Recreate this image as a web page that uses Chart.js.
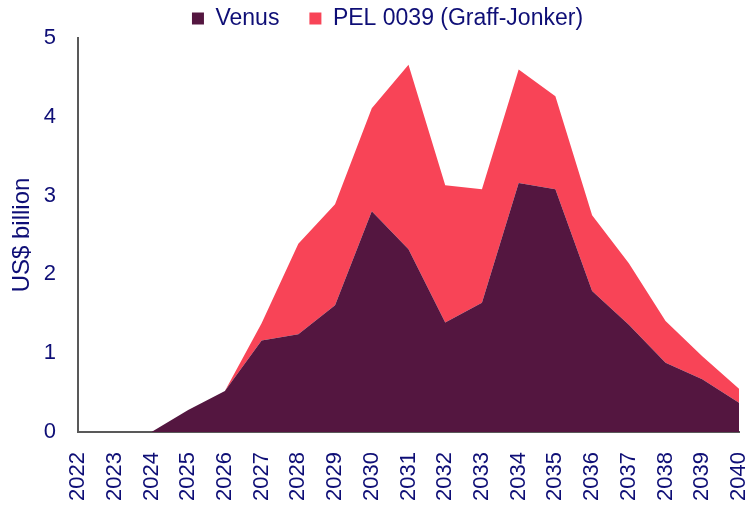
<!DOCTYPE html>
<html lang="en">
<head>
    <meta charset="UTF-8">
    <title>Venus and PEL 0039</title>
    <script src="https://cdn.jsdelivr.net/npm/chart.js"></script>
    <style>
        html, body { margin: 0; padding: 0; background: #ffffff; }
        #chart { display: block; }
    </style>
</head>
<body>
    <canvas id="chart" width="749" height="505"></canvas>

    <script>
        // values, US$ billion
        const years = ['2022', '2023', '2024', '2025', '2026', '2027', '2028', '2029', '2030', '2031',
                       '2032', '2033', '2034', '2035', '2036', '2037', '2038', '2039', '2040'];
        const venus = [0, 0, 0, 0.28, 0.52, 1.16, 1.24, 1.61, 2.80, 2.32,
                       1.39, 1.64, 3.16, 3.08, 1.79, 1.36, 0.88, 0.67, 0.37];
        const pel0039 = [0, 0, 0, 0, 0, 0.22, 1.15, 1.28, 1.31, 2.34,
                         1.74, 1.44, 1.44, 1.18, 0.96, 0.78, 0.53, 0.29, 0.18];
        const yTicks = [0, 1, 2, 3, 4, 5];

        const navy = '#0e0e76';
        const axisGrey = '#595959';
        const font = 'Liberation Sans, Arial, sans-serif';

        // fixed legend band height, and nudge the legend items up/right
        // (labels.padding sets both the vertical inset and the gap between items)
        const legendTweak = {
            id: 'legendTweak',
            beforeInit(chart) {
                const legend = chart.legend;
                const fit = legend.fit;
                legend.fit = function () {
                    fit.call(this);
                    this.height = 38;
                };
                const drawItems = legend._draw;
                legend._draw = function () {
                    const ctx = this.ctx;
                    ctx.save();
                    ctx.translate(18, -23);
                    drawItems.call(this);
                    ctx.restore();
                };
            }
        };

        new Chart(document.getElementById('chart'), {
            type: 'line',
            data: {
                labels: years,
                datasets: [
                    {
                        label: 'Venus',
                        data: venus,
                        backgroundColor: '#541640',
                        borderColor: '#541640',
                        borderWidth: 0,
                        pointRadius: 0,
                        fill: 'origin',
                        tension: 0
                    },
                    {
                        label: 'PEL 0039 (Graff-Jonker)',
                        data: pel0039,
                        backgroundColor: '#f84457',
                        borderColor: '#f84457',
                        borderWidth: 0,
                        pointRadius: 0,
                        fill: '-1',
                        tension: 0
                    }
                ]
            },
            options: {
                responsive: false,
                animation: false,
                layout: { padding: { left: 0, right: 10, top: 0, bottom: 0 } },
                plugins: {
                    tooltip: { enabled: false },
                    legend: {
                        position: 'top',
                        labels: {
                            color: navy,
                            font: { family: font, size: 23 },
                            boxWidth: 12,
                            boxHeight: 12,
                            padding: 30
                        }
                    }
                },
                scales: {
                    x: {
                        offset: false,
                        grid: { display: false },
                        border: { display: true, color: axisGrey, width: 2 },
                        ticks: {
                            color: navy,
                            font: { family: font, size: 22 },
                            minRotation: 90,
                            maxRotation: 90,
                            autoSkip: false,
                            padding: 12
                        },
                        afterFit: s => {
                            s.height = 73;
                            s.paddingLeft = 0;
                            s.paddingRight = 0;
                        }
                    },
                    y: {
                        stacked: true,
                        min: 0,
                        max: 5,
                        grid: { display: false, drawTicks: false },
                        border: { display: true, color: axisGrey, width: 2 },
                        afterBuildTicks: s => { s.ticks = yTicks.map(v => ({ value: v })); },
                        ticks: {
                            color: navy,
                            font: { family: font, size: 22 },
                            padding: 22
                        },
                        title: {
                            display: true,
                            text: 'US$ billion',
                            color: navy,
                            font: { family: font, size: 24 },
                            padding: { top: 8, bottom: 0 }
                        },
                        afterFit: s => { s.width = 78; }
                    }
                }
            },
            plugins: [legendTweak]
        });
    </script>
</body>
</html>
